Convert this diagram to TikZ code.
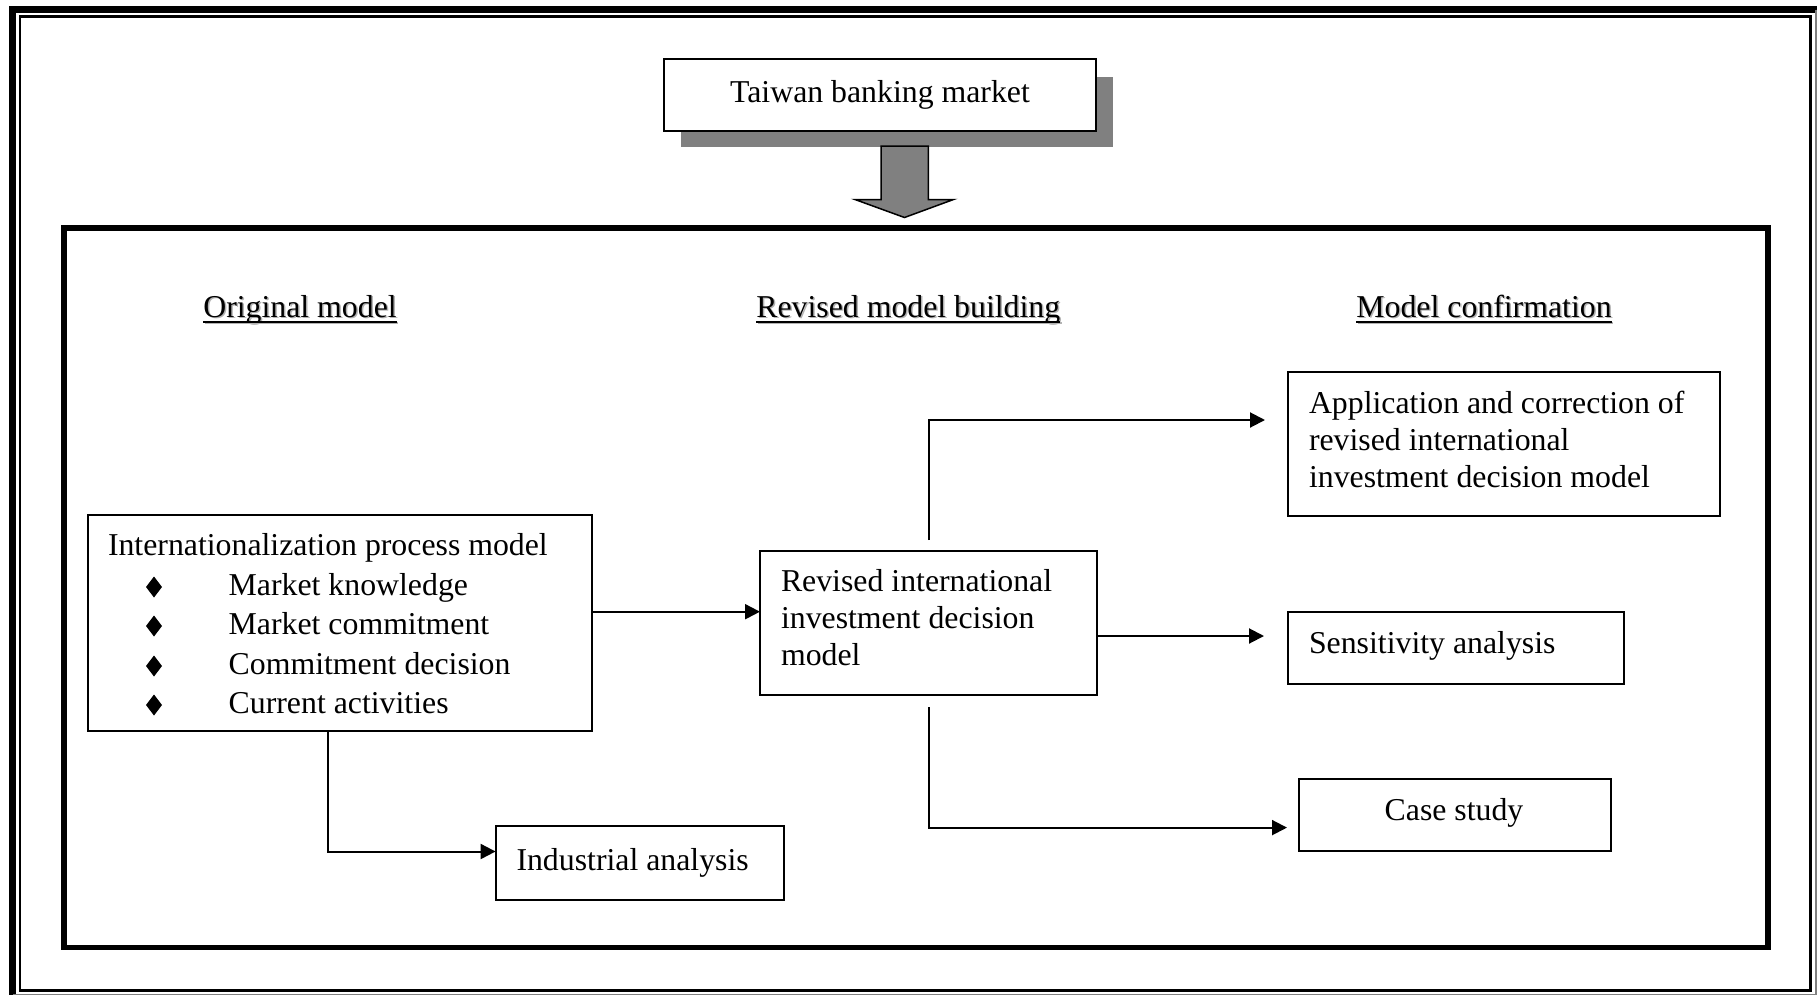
\documentclass[tikz,border=0pt]{standalone}
\usepackage{fontspec}
\setmainfont{Liberation Serif}
\usetikzlibrary{arrows.meta,calc}
\definecolor{shadowgray}{HTML}{808080}
\begin{document}
\begin{tikzpicture}[x=1pt,y=-1pt,
  every node/.style={font=\fontsize{31.8}{36.7}\selectfont, inner sep=0pt, outer sep=0pt},
  box/.style={draw, line width=2pt, fill=white, inner sep=0pt},
  txt/.style={anchor=base west},
  ctxt/.style={anchor=base},
  conn/.style={line width=2pt},
  arr/.style={conn, -{Triangle[length=15pt,width=15pt]}},
  bullet/.style={fill=black},
  hshadow/.style={anchor=base, text=black!30}]

\useasboundingbox (0,0) rectangle (1820,996);

% page border
\draw[line width=6.5pt] (12.7,994.5) -- (12.7,9.7) -- (1816.5,9.7);
\draw[line width=1.5pt, shadowgray] (1816,9.7) -- (1816,994.3) -- (12.7,994.3);
\draw[line width=2.2pt] (20,16.5) rectangle (1810.5,990.5);

% inner frame
\draw[line width=5.5pt] (63.8,228) rectangle (1768.2,947.5);

% top box with shadow
\fill[shadowgray] (681,77) rectangle (1113,147);
\node[box, minimum width=432pt, minimum height=72pt] (tw) at (880,95) {};
\node[ctxt] (twt) at (880,102) {Taiwan banking market};

% block arrow
\draw[fill=shadowgray, line width=1.5pt, line join=miter]
  (881,146) -- (928.4,146) -- (928.4,199.5) -- (953.5,199.5) -- (904.5,217.5)
  -- (855,199.5) -- (881,199.5) -- cycle;

% headings
\node[hshadow] at (301.5,318.5) {Original model};
\node[ctxt] (h1) at (300,317) {Original model};
\node[hshadow] at (909.8,318.5) {Revised model building};
\node[ctxt] (h2) at (908.3,317) {Revised model building};
\node[hshadow] at (1485.5,318.5) {Model confirmation};
\node[ctxt] (h3) at (1484,317) {Model confirmation};
\foreach \h in {h1,h2,h3}{
  \draw[line width=2pt, black!30] ($(\h.base west)+(1.5,6)$) -- ($(\h.base east)+(1.5,6)$);
  \draw[line width=2pt] ($(\h.base west)+(0,4.5)$) -- ($(\h.base east)+(0,4.5)$);
}

% left box
\node[box, minimum width=504pt, minimum height=216pt] (lbox) at (340,623) {};
\node[txt] (l0t) at (108,555) {Internationalization process model};
\node[txt] (l1t) at (228.7,595) {Market knowledge};
\node[txt] (l2t) at (228.7,634) {Market commitment};
\node[txt] (l3t) at (228.7,674) {Commitment decision};
\node[txt] (l4t) at (228.7,713) {Current activities};
\foreach \yy in {595,634,674,713}{
  \fill[bullet] (154,\yy-18.5) -- (162,\yy-8) -- (154,\yy+2.5) -- (146,\yy-8) -- cycle;
}

% middle box
\node[box, minimum width=337pt, minimum height=144pt] (mbox) at (928.5,623) {};
\node[txt] (m1) at (781,591) {Revised international};
\node[txt] (m2) at (781,628.5) {investment decision};
\node[txt] (m3) at (781,665.6) {model};

% application box
\node[box, minimum width=432pt, minimum height=144pt] (abox) at (1504,443.5) {};
\node[txt] (a1t) at (1309,413.5) {Application and correction of};
\node[txt] (a2t) at (1309,450.2) {revised international};
\node[txt] (a3t) at (1309,487) {investment decision model};

% sensitivity box
\node[box, minimum width=336pt, minimum height=72pt] (sbox) at (1456,647.6) {};
\node[txt] (st) at (1309,653) {Sensitivity analysis};

% case study box
\node[box, minimum width=312pt, minimum height=72pt] (cbox) at (1455,815) {};
\node[ctxt] (ct) at (1454,820) {Case study};

% industrial box
\node[box, minimum width=288pt, minimum height=73.6pt] (ibox) at (639.5,862.8) {};
\node[txt] (it) at (516.5,870) {Industrial analysis};

% connectors
\coordinate (p0) at (592,611.7);
\draw[arr] (p0) -- (p0 -| mbox.west);

\coordinate (t0) at (928.5,540);
\coordinate (t1) at (1265,420);
\draw[arr] (t0) |- (t1);

\coordinate (r0) at (1097,636);
\coordinate (r1) at (1264,636);
\draw[arr] (r0) -- (r1);

\coordinate (b0) at (928.5,707);
\coordinate (b1) at (1287,827.6);
\draw[arr] (b0) |- (b1);

\coordinate (d0) at (327.5,731);
\coordinate (d1) at (495.6,851.5);
\draw[arr] (d0) |- (d1);

\end{tikzpicture}
\end{document}
